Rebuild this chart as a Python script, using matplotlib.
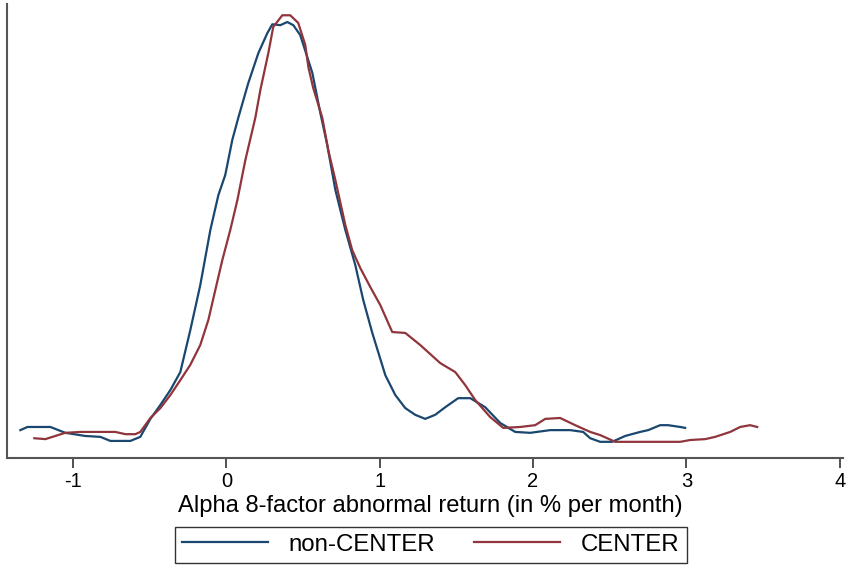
import matplotlib
matplotlib.use('Agg')
import matplotlib.pyplot as plt

# kernel density estimates
non_center_x = [-1.343, -1.297, -1.147, -1.050, -0.919, -0.821, -0.756, -0.626, -0.561, -0.495,
                -0.430, -0.365, -0.300, -0.235, -0.170, -0.104, -0.052, -0.007, 0.039, 0.078,
                0.143, 0.209, 0.267, 0.300, 0.352, 0.398, 0.437, 0.482, 0.528, 0.561,
                0.613, 0.658, 0.711, 0.776, 0.841, 0.893, 0.952, 1.037, 1.102, 1.167,
                1.232, 1.297, 1.362, 1.428, 1.512, 1.591, 1.688, 1.786, 1.884, 1.982,
                2.112, 2.243, 2.327, 2.373, 2.438, 2.516, 2.601, 2.699, 2.751, 2.829,
                2.881, 2.960, 2.992]
non_center_y = [0.062, 0.069, 0.069, 0.056, 0.049, 0.047, 0.038, 0.038, 0.047, 0.087,
                0.118, 0.151, 0.191, 0.284, 0.384, 0.507, 0.584, 0.629, 0.707, 0.756,
                0.833, 0.900, 0.944, 0.964, 0.962, 0.969, 0.962, 0.940, 0.891, 0.856,
                0.767, 0.696, 0.596, 0.507, 0.429, 0.351, 0.278, 0.184, 0.140, 0.111,
                0.096, 0.087, 0.096, 0.113, 0.133, 0.133, 0.113, 0.078, 0.058, 0.056,
                0.062, 0.062, 0.058, 0.044, 0.036, 0.036, 0.049, 0.058, 0.062, 0.073,
                0.073, 0.069, 0.067]

center_x = [-1.252, -1.180, -1.115, -1.050, -0.952, -0.821, -0.724, -0.658, -0.593, -0.561,
            -0.495, -0.430, -0.365, -0.300, -0.235, -0.170, -0.117, -0.072, -0.026, 0.026,
            0.072, 0.124, 0.189, 0.222, 0.274, 0.306, 0.365, 0.417, 0.469, 0.515,
            0.535, 0.567, 0.626, 0.665, 0.711, 0.776, 0.821, 0.874, 0.939, 1.004,
            1.082, 1.167, 1.265, 1.395, 1.493, 1.558, 1.623, 1.721, 1.806, 1.917,
            2.014, 2.080, 2.177, 2.275, 2.373, 2.438, 2.536, 2.960, 3.025, 3.123,
            3.188, 3.286, 3.351, 3.416, 3.462]
center_y = [0.044, 0.042, 0.049, 0.056, 0.058, 0.058, 0.058, 0.053, 0.053, 0.058,
            0.089, 0.111, 0.140, 0.173, 0.207, 0.251, 0.307, 0.373, 0.440, 0.507,
            0.573, 0.662, 0.756, 0.818, 0.900, 0.958, 0.984, 0.984, 0.967, 0.918,
            0.869, 0.822, 0.756, 0.684, 0.618, 0.518, 0.462, 0.422, 0.380, 0.340,
            0.280, 0.278, 0.251, 0.211, 0.191, 0.162, 0.129, 0.091, 0.067, 0.069,
            0.073, 0.087, 0.089, 0.073, 0.058, 0.051, 0.036, 0.036, 0.040, 0.042,
            0.047, 0.058, 0.069, 0.073, 0.069]

x_ticks = [-1, 0, 1, 2, 3, 4]

plt.rcParams['font.family'] = ['Liberation Sans', 'DejaVu Sans']

fig = plt.figure(figsize=(8.47, 5.67), dpi=100)
ax = fig.add_axes([0.0083, 0.1922, 0.9867, 0.8007])

ax.plot(non_center_x, non_center_y, color='#1a476f', linewidth=1.6, label='non-CENTER')
ax.plot(center_x, center_y, color='#90353b', linewidth=1.6, label='CENTER')

ax.set_xlim(-1.43, 4.02)
ax.set_ylim(0, 1.009)
ax.set_xticks(x_ticks)
ax.set_xticklabels([str(t) for t in x_ticks])
ax.set_yticks([])
ax.tick_params(axis='x', direction='out', length=7, width=1.2, color='#333333',
               labelsize=14.5, pad=3)
for side in ['top', 'right']:
    ax.spines[side].set_visible(False)
for side in ['left', 'bottom']:
    ax.spines[side].set_color('#555555')
    ax.spines[side].set_linewidth(1.5)

# axis title placed by baseline so it sits between tick labels and legend
fig.text(0.508, 0.097, 'Alpha 8-factor abnormal return (in % per month)',
         fontsize=17.1, ha='center', va='baseline')

leg = fig.legend(loc='center', bbox_to_anchor=(0.5085, 0.039), ncol=2, fontsize=17.3,
                 frameon=True, fancybox=False, handlelength=3.6, handletextpad=0.85,
                 columnspacing=1.6, borderpad=0.3, borderaxespad=0)
leg.get_frame().set_edgecolor('black')
leg.get_frame().set_linewidth(1.0)

fig.savefig('out.png', dpi=100)
